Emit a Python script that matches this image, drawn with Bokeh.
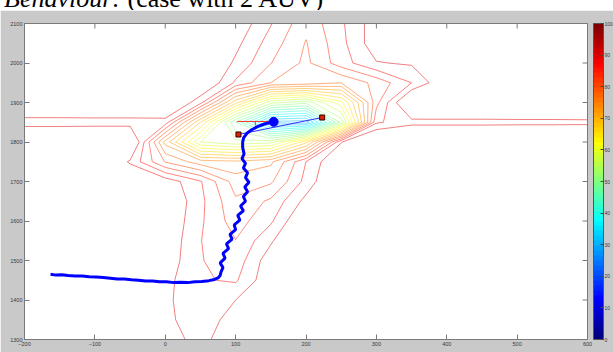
import numpy as np
from bokeh.plotting import figure
from bokeh.layouts import column
from bokeh.models import ColorBar, LinearColorMapper, FixedTicker, Label, Range1d, Div
from bokeh.embed import file_html
from bokeh.resources import INLINE

# grid of the scalar field (columns: x = -200..600 step 50; rows listed from y = 2100 down to 1300)
grid_x = [-200, -150, -100, -50, 0, 50, 100, 150, 200, 250, 300, 350, 400, 450, 500, 550, 600]
grid_y_top_down = [2100, 2050, 2000, 1950, 1900, 1850, 1800, 1750, 1700, 1650, 1600, 1550, 1500, 1450, 1400, 1350, 1300]
field_rows = [
    [96, 96, 96, 96, 96, 96, 92.4, 87.2, 81.9, 86.5, 91.8, 96, 96, 96, 96, 96, 96],
    [96, 96, 96, 96, 96, 96, 90.9, 85.6, 80.8, 86.1, 92, 95, 96, 96, 96, 96, 96],
    [96, 96, 96, 96, 96, 94.6, 89.4, 84.1, 80.3, 85.6, 89.8, 90.4, 95, 96, 96, 96, 96],
    [96, 96, 96, 96, 96, 94, 86.5, 81, 80, 78, 82, 87, 93, 96, 96, 96, 96],
    [95, 95, 95, 95, 95.1, 88, 70, 55, 52, 62, 83, 95.4, 95.5, 95.5, 95.5, 95.6, 95.6],
    [88.5, 88.5, 88.6, 88.6, 88.7, 69, 48, 29, 28, 52, 86.5, 89, 89, 89, 89.1, 89.1, 89.2],
    [95.5, 95.5, 95.6, 95.6, 74, 57, 54.7, 56, 68, 89.8, 95.9, 96, 96, 96, 96, 96, 96],
    [96, 96, 96, 89.5, 80.8, 76.4, 75.7, 77.4, 87, 94, 96, 96, 96, 96, 96, 96, 96],
    [96, 96, 96, 94, 92, 87.3, 79.5, 80.5, 88, 95, 96, 96, 96, 96, 96, 96, 96],
    [96, 96, 96, 96, 93.5, 87.8, 81.5, 84.6, 91, 96, 96, 96, 96, 96, 96, 96, 96],
    [96, 96, 96, 96, 93, 87.5, 82.5, 86.5, 94, 96, 96, 96, 96, 96, 96, 96, 96],
    [96, 96, 96, 95, 92.5, 87.1, 84.1, 89.5, 96, 96, 96, 96, 96, 96, 96, 96, 96],
    [96, 96, 96, 94, 92, 87.2, 85.2, 92, 96, 96, 96, 96, 96, 96, 96, 96, 96],
    [96, 96, 96, 93.5, 91, 87.3, 86.6, 92.5, 96, 96, 96, 96, 96, 96, 96, 96, 96],
    [96, 96, 95.3, 93, 90.7, 87.6, 90, 94, 96, 96, 96, 96, 96, 96, 96, 96, 96],
    [96, 96, 96, 94, 90.8, 88.1, 91.5, 95.5, 96, 96, 96, 96, 96, 96, 96, 96, 96],
    [96, 96, 96, 95, 91.7, 88.7, 93, 96, 96, 96, 96, 96, 96, 96, 96, 96, 96],
]

levels = [30, 33, 36, 39, 42, 45, 48, 51, 54, 57, 60, 63, 66, 69, 72, 75, 78, 81, 84, 87, 90]
x_ticks = [-200, -100, 0, 100, 200, 300, 400, 500, 600]
y_ticks = [1300, 1400, 1500, 1600, 1700, 1800, 1900, 2000, 2100]
cb_ticks = [0, 10, 20, 30, 40, 50, 60, 70, 80, 90, 100]

# vehicle track
path_x = [-163, -155, -147, -138, -128, -118, -108, -98, -88, -78, -68, -58, -48, -38, -28, -18, -8, 2, 12, 22, 32, 42, 52, 62, 70, 75, 78, 79,
          82, 78, 85, 82, 90, 87, 95, 92, 100, 98, 106, 103, 111, 107, 114, 111, 117, 113, 119, 114, 117, 111, 114, 109, 112, 110, 110, 111.5, 116, 123, 131, 140, 150, 154]
path_y = [1465, 1463, 1464, 1462, 1461, 1461, 1459, 1458, 1457, 1455, 1453, 1453, 1451, 1450, 1448, 1448, 1446, 1446, 1444, 1445, 1444, 1446, 1447, 1449, 1452, 1456, 1462, 1470,
          1482, 1494, 1506, 1518, 1530, 1542, 1554, 1566, 1578, 1590, 1602, 1614, 1626, 1638, 1650, 1662, 1674, 1686, 1698, 1710, 1722, 1734, 1746, 1758, 1770, 1786, 1800, 1811, 1822, 1831, 1839, 1845, 1850, 1851]
auv_x = [104, 223]
auv_y = [1819, 1862]
head_x = [102, 149]
head_y = [1852, 1852]
tick_x = [128, 128]
tick_y = [1842, 1852]


def jet(t):
    t = min(max(t, 0.0), 1.0)
    rr = min(max(1.5 - abs(4 * t - 3), 0), 1)
    gg = min(max(1.5 - abs(4 * t - 2), 0), 1)
    bb = min(max(1.5 - abs(4 * t - 1), 0), 1)
    return "#%02x%02x%02x" % (int(rr * 255), int(gg * 255), int(bb * 255))


jet64 = [jet(i / 63) for i in range(64)]
level_colors = [jet(l / 100) for l in levels]

Z = np.array(field_rows[::-1], dtype=float)
gy = np.array(grid_y_top_down[::-1], dtype=float)
gx = np.array(grid_x, dtype=float)

GREY = "#c9c9c9"
AX = "#7a7a7a"
p = figure(width=613, height=342, output_backend="svg", toolbar_location=None,
           x_range=Range1d(-200, 600), y_range=Range1d(1300, 2100),
           min_border_left=24, min_border_right=26, min_border_top=13, min_border_bottom=13)
p.border_fill_color = GREY
p.background_fill_color = "white"
p.outline_line_color = AX
p.grid.visible = False

for ax, t in ((p.xaxis[0], x_ticks), (p.yaxis[0], y_ticks)):
    ax.ticker = FixedTicker(ticks=t)
    ax.major_tick_in = 5
    ax.major_tick_out = 0
    ax.minor_tick_line_color = None
    ax.axis_line_color = AX
    ax.major_tick_line_color = AX
    ax.major_label_text_font = "Liberation Sans"
    ax.major_label_text_font_size = "5.5px"
    ax.major_label_text_color = "#3a3a3a"
    ax.major_label_standoff = 2

# inward ticks on the top and right edges of the box (half of each dash is clipped by the frame)
p.scatter(x_ticks, [p.y_range.end] * len(x_ticks), marker="dash", angle=np.pi / 2, size=10, line_color=AX, line_width=1)
p.scatter([p.x_range.end] * len(y_ticks), y_ticks, marker="dash", size=10, line_color=AX, line_width=1)

p.contour(x=gx, y=gy, z=Z, levels=levels, line_color=level_colors, line_width=1, line_alpha=0.5)

p.line(head_x, head_y, line_color="#ff3030", line_width=1)
p.line(tick_x, tick_y, line_color="#ff3030", line_width=1)
p.line(auv_x, auv_y, line_color="#3030ff", line_width=1)
p.line(path_x, path_y, line_color="#0000ff", line_width=3)
p.scatter([path_x[-1]], [path_y[-1]], size=9, color="#0000ff")
p.scatter(auv_x, auv_y, marker="square", size=5, fill_color="#dd2200", line_color="#330000", line_width=1)

mapper = LinearColorMapper(palette=jet64, low=0, high=100)
cb = ColorBar(color_mapper=mapper, location=(569, 0), width=10, height=316, padding=0, margin=0,
              ticker=FixedTicker(ticks=cb_ticks), major_label_text_font_size="5px",
              major_label_text_font="Liberation Sans", major_label_text_color="#3a3a3a",
              label_standoff=1, major_tick_in=3, major_tick_out=0, major_tick_line_color="#444444",
              bar_line_color="#555555", background_fill_color=None, border_line_color=None)
p.add_layout(cb, "center")

p.add_layout(Label(x=200, y=2100, text="t=15000", text_align="center", text_baseline="middle",
                   y_offset=7, text_font="Liberation Sans", text_font_size="5.5px", text_color="#222222"))

head = Div(text=('<div style="position:relative;top:-14px;left:4px;white-space:nowrap;'
                 'font-family:\'Liberation Serif\';font-size:26px;line-height:26px;color:#000">'
                 '<i>Behaviour:</i> (case with 2 AUV)</div>'),
           width=613, height=10, margin=0,
           styles={"overflow": "hidden", "background-color": "white"})

layout = column(head, p, spacing=0)
open("out.html", "w").write(file_html(layout, INLINE))
